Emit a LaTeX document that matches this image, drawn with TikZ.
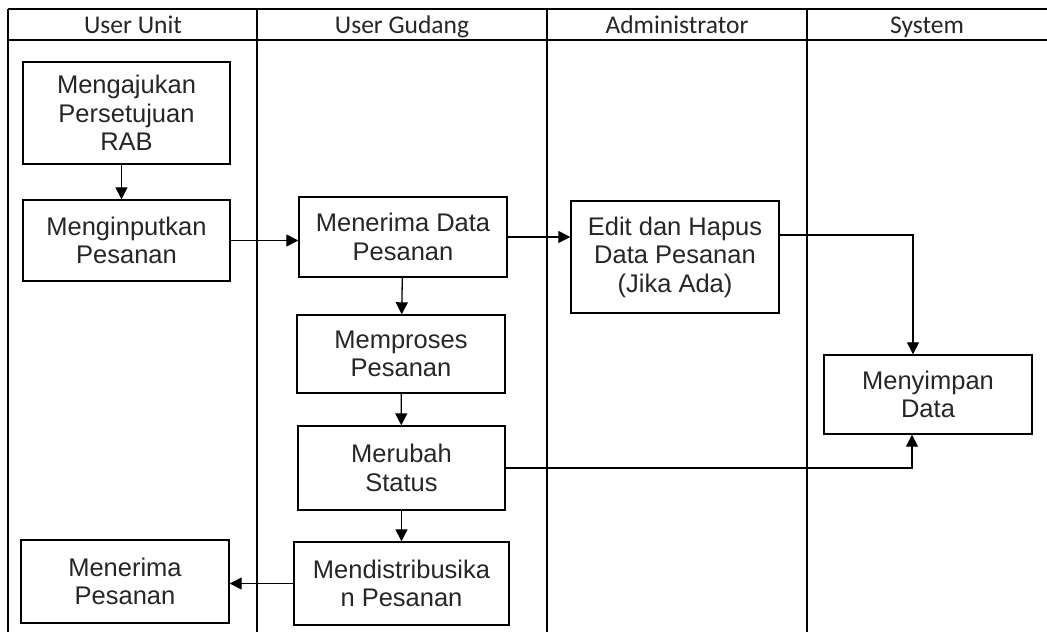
\documentclass[tikz,border=0pt]{standalone}
\usepackage{fontspec}
\usetikzlibrary{arrows.meta}
\newfontfamily\boxfont{Liberation Sans}
\newfontfamily\headfont{Carlito}
\tikzset{
  proc/.style={draw,line width=1.4pt,align=center,inner sep=2pt,
    font=\boxfont\fontsize{25.5}{28.5}\selectfont,text=black!85},
  lanehead/.style={anchor=base,font=\headfont\fontsize{25.5}{28}\selectfont,text=black!85},
  arr/.style={line width=1.3pt,-{Triangle[length=12pt,width=12pt]}},
  lane/.style={line width=1.3pt}
}
\begin{document}
\begin{tikzpicture}[x=1pt,y=-1pt]
\useasboundingbox (0,0) rectangle (1047,632);
% lanes
\draw[lane,line width=1.8pt] (8,9) -- (1047,9);
\draw[lane] (8,40) -- (1047,40);
\draw[lane] (8,9) -- (8,632);
\draw[lane] (257,9) -- (257,632);
\draw[lane] (547,9) -- (547,632);
\draw[lane] (807,9) -- (807,632);
\node[lanehead] (h1) at (133,33) {User Unit};
\node[lanehead] (h2) at (402,33) {User Gudang};
\node[lanehead] (h3) at (677,33) {Administrator};
\node[lanehead] (h4) at (927,33) {System};
% steps
\node[proc,minimum width=207pt,minimum height=102pt] (ajukan) at (126.5,113) {Mengajukan\\Persetujuan\\RAB};
\node[proc,minimum width=207pt,minimum height=81pt] (input) at (126.5,240.5) {Menginputkan\\Pesanan};
\node[proc,minimum width=208pt,minimum height=80pt] (terima) at (403,237) {Menerima Data\\Pesanan};
\node[proc,minimum width=208pt,minimum height=112pt] (edit) at (675,257) {Edit dan Hapus\\Data Pesanan\\(Jika Ada)};
\node[proc,minimum width=208pt,minimum height=78pt] (proses) at (401,354) {Memproses\\Pesanan};
\node[proc,minimum width=207pt,minimum height=84pt] (ubah) at (401.5,468) {Merubah\\Status};
\node[proc,minimum width=215pt,minimum height=83pt] (distribusi) at (401.5,583.5) {Mendistribusika\\n Pesanan};
\node[proc,minimum width=208pt,minimum height=83pt] (terimapesan) at (125,581.5) {Menerima\\Pesanan};
\node[proc,minimum width=208pt,minimum height=79pt] (simpan) at (928,394.5) {Menyimpan\\Data};
% flow
\draw[arr] ([xshift=-5pt]ajukan.south) -- ([xshift=-5pt]input.north);
\draw[arr] (input.east) -- (input.east -| terima.west);
\draw[arr] (terima.east) -- (terima.east -| edit.west);
\draw[arr] ([yshift=22pt]edit.east) -| ([xshift=-15pt]simpan.north);
\draw[arr] (terima) -- (proses);
\draw[arr] (proses) -- (ubah);
\draw[arr] (ubah) -- (distribusi);
\draw[arr] (ubah.east) -| ([xshift=-16pt]simpan.south);
\draw[arr] (distribusi.west) -- (distribusi.west -| terimapesan.east);
\end{tikzpicture}
\end{document}
